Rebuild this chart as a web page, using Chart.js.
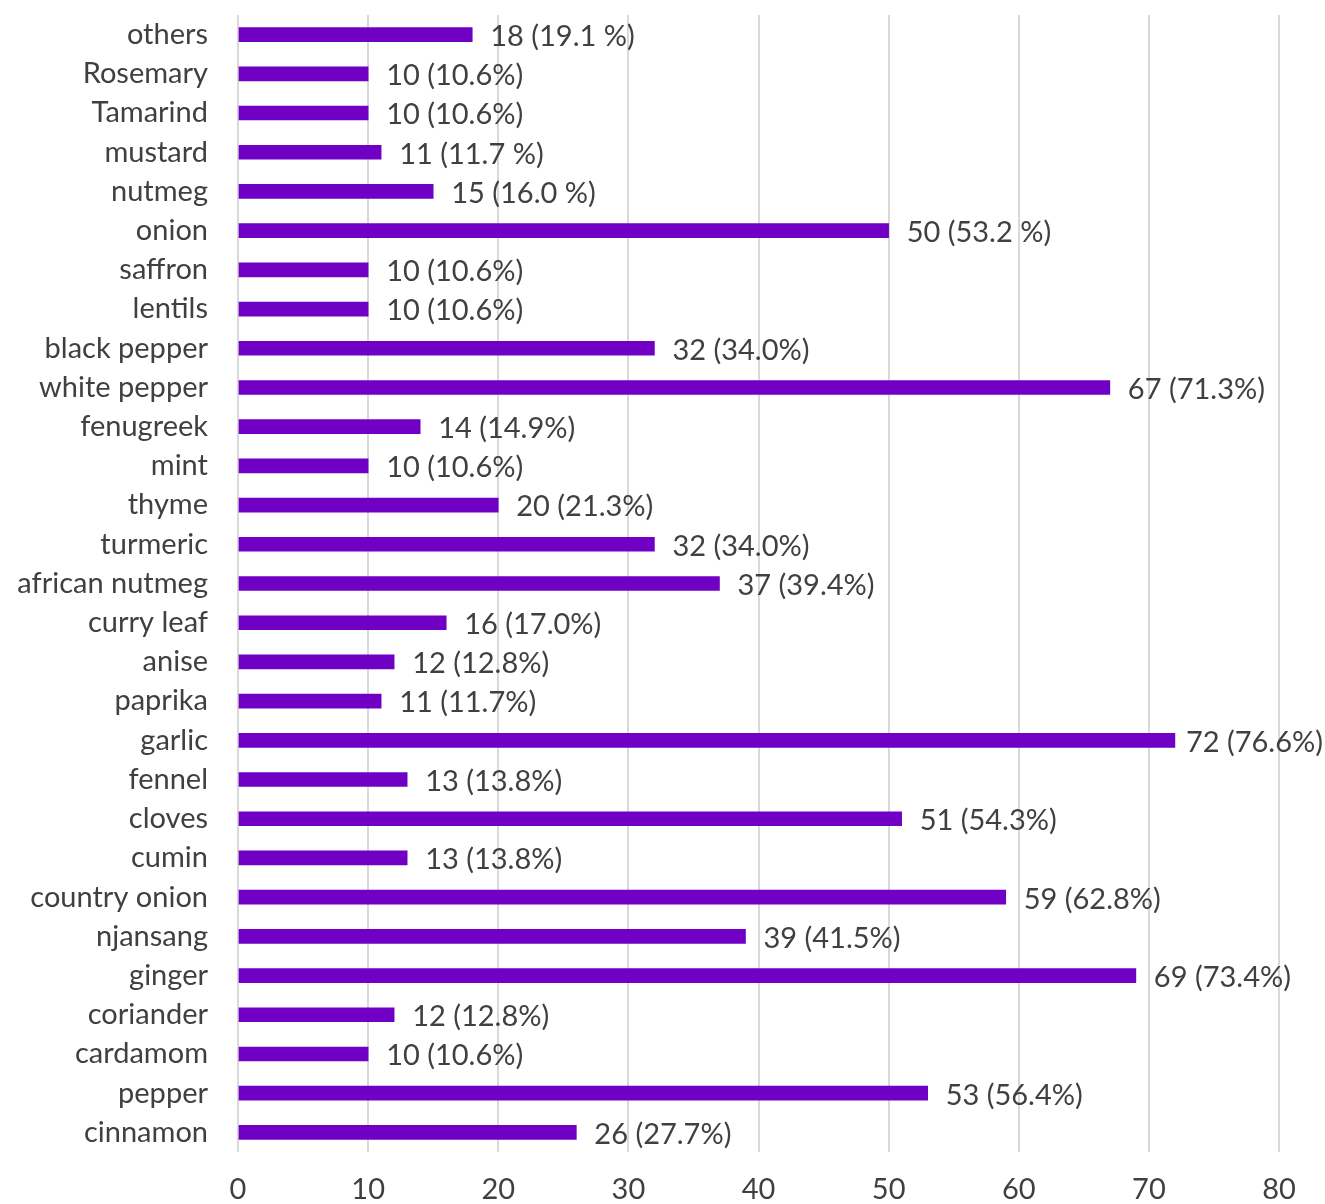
<!DOCTYPE html>
<html>
<head>
<meta charset="utf-8">
<script src="https://cdn.jsdelivr.net/npm/chart.js@4.4.1/dist/chart.umd.min.js"></script>
<style>
  html, body { margin: 0; padding: 0; background: #ffffff; }
  #wrap { width: 1325px; height: 1204px; position: relative; }
</style>
</head>
<body>
<div id="wrap"><canvas id="c" width="1325" height="1204"></canvas></div>
<script>
const categories = ["others","Rosemary","Tamarind","mustard","nutmeg","onion","saffron","lentils","black pepper","white pepper","fenugreek","mint","thyme","turmeric","african nutmeg","curry leaf","anise","paprika","garlic","fennel","cloves","cumin","country onion","njansang","ginger","coriander","cardamom","pepper","cinnamon"];
const counts = [18,10,10,11,15,50,10,10,32,67,14,10,20,32,37,16,12,11,72,13,51,13,59,39,69,12,10,53,26];
const valueLabels = ["18 (19.1 %)","10 (10.6%)","10 (10.6%)","11 (11.7 %)","15 (16.0 %)","50 (53.2 %)","10 (10.6%)","10 (10.6%)","32 (34.0%)","67 (71.3%)","14 (14.9%)","10 (10.6%)","20 (21.3%)","32 (34.0%)","37 (39.4%)","16 (17.0%)","12 (12.8%)","11 (11.7%)","72 (76.6%)","13 (13.8%)","51 (54.3%)","13 (13.8%)","59 (62.8%)","39 (41.5%)","69 (73.4%)","12 (12.8%)","10 (10.6%)","53 (56.4%)","26 (27.7%)"];
const xTicks = [0,10,20,30,40,50,60,70,80];

const FONT = "Lato, 'Open Sans', sans-serif";
const TEXT = "#404040";
const FSIZE = 29;

const valueLabelPlugin = {
  id: 'valueLabels',
  afterDatasetsDraw(chart) {
    const ctx = chart.ctx;
    const meta = chart.getDatasetMeta(0);
    ctx.save();
    ctx.font = FSIZE + "px " + FONT;
    ctx.fillStyle = TEXT;
    ctx.textBaseline = 'middle';
    ctx.textAlign = 'left';
    meta.data.forEach((bar, i) => {
      const txt = valueLabels[i];
      const w = ctx.measureText(txt).width;
      let x = bar.x + 18;
      if (x + w > chart.width - 2) x = Math.max(bar.x + 6, chart.width - 2 - w);
      ctx.fillText(txt, x, bar.y + 2);
    });
    ctx.restore();
  }
};

new Chart(document.getElementById('c'), {
  type: 'bar',
  data: {
    labels: categories,
    datasets: [{
      data: counts,
      backgroundColor: '#7000C4',
      borderWidth: 0,
      barThickness: 14
    }]
  },
  options: {
    indexAxis: 'y',
    responsive: false,
    animation: false,
    layout: { padding: { top: 15, right: 46, bottom: 0, left: 0 } },
    plugins: { legend: { display: false }, tooltip: { enabled: false } },
    scales: {
      x: {
        min: 0, max: 80,
        afterBuildTicks(scale) { scale.ticks = xTicks.map(v => ({ value: v })); },
        afterFit(scale) { scale.height = 52; },
        grid: { color: '#d9d9d9', lineWidth: 2, drawTicks: false },
        border: { display: false },
        ticks: { font: { size: FSIZE, family: FONT }, color: TEXT, padding: 20 }
      },
      y: {
        afterFit(scale) { scale.width = 238; },
        grid: { display: false, drawTicks: true, tickLength: 30 },
        border: { display: false },
        ticks: { font: { size: FSIZE, family: FONT, lineHeight: 1.0 }, color: TEXT, padding: 0, autoSkip: false }
      }
    }
  },
  plugins: [valueLabelPlugin]
});
</script>
</body>
</html>
